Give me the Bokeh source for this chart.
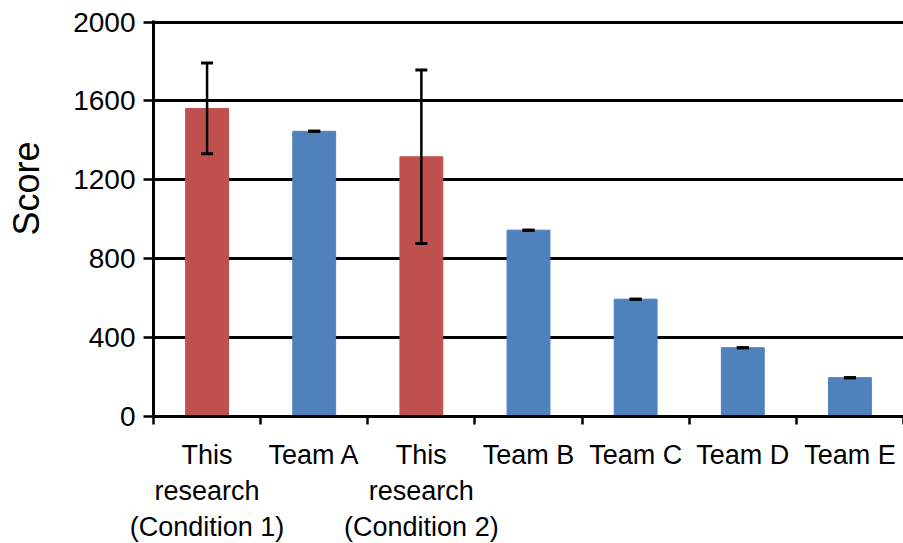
from bokeh.plotting import figure
from bokeh.models import (Range1d, LinearAxis, FixedTicker,
                          ColumnDataSource, Whisker, TeeHead, Grid)
from bokeh.embed import file_html
from bokeh.resources import INLINE

categories = ["This\nresearch\n(Condition 1)", "Team A", "This\nresearch\n(Condition 2)",
              "Team B", "Team C", "Team D", "Team E"]
scores = [1562, 1446, 1317, 945, 595, 349, 197]
errors = [230, 0, 440, 0, 0, 0, 0]
bar_colors = ["#C0504D", "#4F81BD", "#C0504D", "#4F81BD", "#4F81BD", "#4F81BD", "#4F81BD"]
y_ticks = [0, 400, 800, 1200, 1600, 2000]
y_title = "\u00a0" * 6 + "Score"

FONT = "Liberation Sans"
n = len(categories)
centers = [i + 0.5 for i in range(n)]

src = ColumnDataSource(dict(
    x=centers, top=scores, color=bar_colors,
    upper=[s + e for s, e in zip(scores, errors)],
    lower=[s - e for s, e in zip(scores, errors)],
))

p = figure(frame_width=750, frame_height=396, output_backend="svg", toolbar_location=None,
           x_range=Range1d(0, n), y_range=Range1d(0, 2008),
           x_axis_location=None, y_axis_location=None,
           min_border_left=153, min_border_right=0, min_border_top=20, min_border_bottom=0)
p.outline_line_color = None
p.background_fill_color = "white"
p.border_fill_color = "white"
p.center = [r for r in p.center if not isinstance(r, Grid)]

g = Grid(dimension=1, ticker=FixedTicker(ticks=y_ticks), grid_line_color="black", grid_line_width=3.2)
p.add_layout(g)

p.vbar(x="x", top="top", width=0.4, color="color", source=src)

w = Whisker(source=src, base="x", upper="upper", lower="lower", level="overlay",
            line_color="black", line_width=2.5,
            upper_head=TeeHead(size=12, line_color="black", line_width=3),
            lower_head=TeeHead(size=12, line_color="black", line_width=3))
p.add_layout(w)

# y axis
yax = LinearAxis(ticker=FixedTicker(ticks=y_ticks), axis_label=y_title)
yax.axis_line_width = 3
yax.axis_line_color = "black"
yax.major_tick_line_width = 2.5
yax.major_tick_in = 0
yax.major_tick_out = 10
yax.minor_tick_line_color = None
yax.major_label_text_font = FONT
yax.major_label_text_font_size = "28px"
yax.major_label_text_color = "black"
yax.major_label_standoff = 8
yax.axis_label_text_font = FONT
yax.axis_label_text_font_size = "36px"
yax.axis_label_text_font_style = "normal"
yax.axis_label_text_color = "black"
yax.axis_label_standoff = 23
p.add_layout(yax, "left")

# x axis with boundary ticks
xedge = LinearAxis(ticker=FixedTicker(ticks=list(range(n + 1))))
xedge.axis_line_width = 3
xedge.axis_line_color = "black"
xedge.major_tick_line_width = 2.5
xedge.major_tick_in = 0
xedge.major_tick_out = 8
xedge.minor_tick_line_color = None
xedge.major_label_overrides = {i: "" for i in range(n + 1)}
xedge.major_label_text_font_size = "1px"
xedge.major_label_standoff = 0
p.add_layout(xedge, "below")

# category labels at bar centres
xcat = LinearAxis(ticker=FixedTicker(ticks=centers))
xcat.major_label_overrides = {c: lab for c, lab in zip(centers, categories)}
xcat.axis_line_color = None
xcat.major_tick_line_color = None
xcat.minor_tick_line_color = None
xcat.major_tick_out = 0
xcat.major_tick_in = 0
xcat.major_label_text_font = FONT
xcat.major_label_text_font_size = "27px"
xcat.major_label_text_color = "black"
xcat.major_label_text_line_height = 1.2
xcat.major_label_standoff = 15
p.add_layout(xcat, "below")

open("out.html", "w").write(file_html(p, INLINE))
